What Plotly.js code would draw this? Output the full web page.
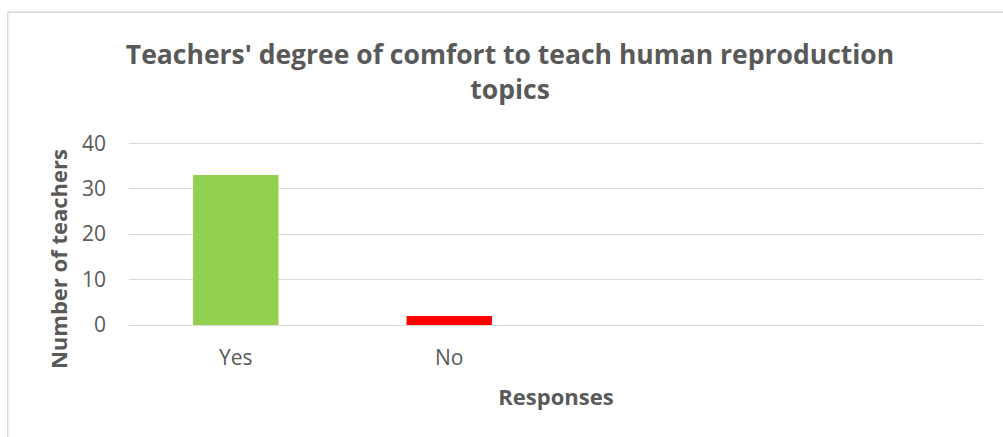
<!DOCTYPE html>
<html>
<head>
<meta charset="utf-8">
<script src="https://cdn.plot.ly/plotly-3.0.1.min.js"></script>
<style>
html,body{margin:0;padding:0;background:#fff;}
#chart{width:1003px;height:437px;}
</style>
</head>
<body>
<div id="chart"></div>
<script>
const categories = ["Yes", "No"];
const teacherCounts = [33, 2];
const barColors = ["#92d050", "#ff0000"];
const yTickValues = [0, 10, 20, 30, 40];
const chartTitle = "Teachers' degree of comfort to teach human reproduction<br>topics";
const xAxisTitle = "Responses";
const yAxisTitle = "Number of teachers";

const textColor = "#595959";
const font = "Open Sans, sans-serif";

const data = [{
  type: "bar",
  x: categories,
  y: teacherCounts,
  width: 0.4,
  marker: {color: barColors},
  hoverinfo: "x+y"
}];

const layout = {
  width: 1003,
  height: 437,
  margin: {l: 129, r: 20, t: 140.5, b: 112},
  paper_bgcolor: "#ffffff",
  plot_bgcolor: "#ffffff",
  showlegend: false,
  title: {
    text: chartTitle,
    font: {family: font, size: 26.5, color: textColor, weight: "bold"},
    x: 0.5085, xanchor: "center",
    y: 0.853, yanchor: "middle"
  },
  xaxis: {
    type: "category",
    range: [-0.5, 3.5],
    showgrid: false,
    showline: false,
    zeroline: false,
    ticks: "",
    ticklabelstandoff: 18,
    tickfont: {family: font, size: 21, color: textColor},
    title: {text: xAxisTitle, font: {family: font, size: 22, color: textColor, weight: "bold"}, standoff: 19}
  },
  yaxis: {
    range: [0, 40.5],
    tickvals: yTickValues,
    showgrid: true,
    gridcolor: "#d9d9d9",
    gridwidth: 1,
    zeroline: true,
    zerolinecolor: "#d9d9d9",
    zerolinewidth: 1,
    showline: false,
    ticks: "",
    ticklabelstandoff: 22,
    tickfont: {family: font, size: 21, color: textColor}
  },
  annotations: [{
    text: yAxisTitle,
    textangle: -90,
    xref: "paper", yref: "paper",
    x: -0.084, y: 0.36,
    xanchor: "center", yanchor: "middle",
    showarrow: false,
    font: {family: font, size: 22, color: textColor, weight: "bold"}
  }],
  shapes: [{
    type: "path",
    xref: "paper", yref: "paper",
    path: "M -0.142,-0.61 L -0.142,1.70 L 1.03,1.70",
    line: {color: "#d9d9d9", width: 1.5}
  }]
};

Plotly.newPlot("chart", data, layout, {displayModeBar: false, staticPlot: true});
</script>
</body>
</html>
